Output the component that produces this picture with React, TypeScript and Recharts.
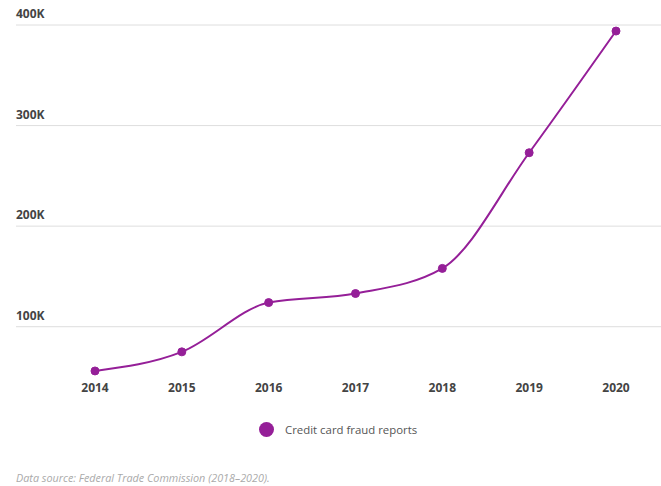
import React from 'react';
import { LineChart, Line, XAxis, YAxis, CartesianGrid } from 'recharts';

const years = ['2014', '2015', '2016', '2017', '2018', '2019', '2020'];
const fraudReports = [56000, 75000, 124000, 133000, 158000, 273000, 394000];
const yTicks = [100000, 200000, 300000, 400000];

const data = years.map((year, i) => ({ year, reports: fraudReports[i] }));

const PURPLE = '#951f98';
const FONT = '"Open Sans", "DejaVu Sans", sans-serif';
const PLOT_LEFT = 16;

const YTick = ({ y, payload }: any) => (
  <text
    x={PLOT_LEFT}
    y={y - 7}
    fill="#444"
    fontSize={12}
    fontWeight={700}
    fontFamily={FONT}
    textAnchor="start"
  >
    {`${payload.value / 1000}K`}
  </text>
);

const App: React.FC = () => {
  return (
    <div style={{ position: 'absolute', left: 0, top: 0, width: 661, height: 486, background: '#fff' }}>
      <LineChart
        width={661}
        height={486}
        data={data}
        margin={{ top: 25, right: 0, left: PLOT_LEFT - 1, bottom: 79 }}
      >
        <CartesianGrid vertical={false} stroke="#dedede" horizontalValues={yTicks} />
        <XAxis
          dataKey="year"
          axisLine={false}
          tickLine={false}
          tickSize={0}
          tickMargin={6}
          height={30}
          padding={{ left: 79, right: 45 }}
          tick={{ fill: '#444', fontSize: 12, fontWeight: 700, fontFamily: FONT }}
          interval={0}
        />
        <YAxis
          width={1}
          domain={[50000, 400000]}
          ticks={yTicks}
          allowDataOverflow
          axisLine={false}
          tickLine={false}
          tick={(props: any) => <YTick {...props} />}
        />
        <Line
          type="monotone"
          dataKey="reports"
          stroke={PURPLE}
          strokeWidth={2}
          dot={{ r: 4, fill: PURPLE, stroke: PURPLE, strokeWidth: 1 }}
          isAnimationActive={false}
        />
      </LineChart>
      <div
        style={{
          position: 'absolute',
          top: 422,
          left: 259,
          display: 'flex',
          alignItems: 'center',
          fontFamily: FONT,
          fontSize: 11.4,
          color: '#555',
        }}
      >
        <span
          style={{
            width: 15,
            height: 15,
            borderRadius: '50%',
            background: PURPLE,
            display: 'inline-block',
            marginRight: 11,
          }}
        />
        Credit card fraud reports
      </div>
      <div
        style={{
          position: 'absolute',
          top: 470,
          left: 16,
          fontFamily: FONT,
          fontSize: 10.8,
          fontStyle: 'italic',
          color: '#aaa',
        }}
      >
        Data source: Federal Trade Commission (2018–2020).
      </div>
    </div>
  );
};

export default App;
